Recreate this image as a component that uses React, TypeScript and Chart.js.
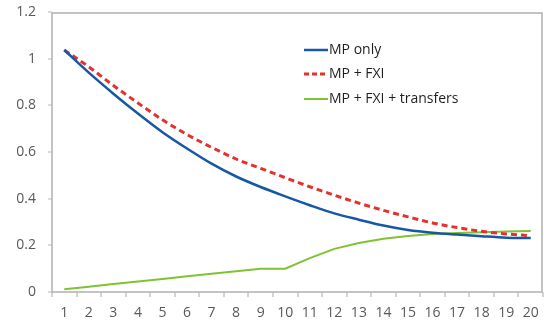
import React, { useEffect, useRef } from "react";
import { Chart, registerables } from "chart.js";

Chart.register(...registerables);

const periods = ["1", "2", "3", "4", "5", "6", "7", "8", "9", "10", "11", "12", "13", "14", "15", "16", "17", "18", "19", "20"];

const mpOnly = [1.037, 0.94, 0.85, 0.765, 0.685, 0.615, 0.55, 0.495, 0.45, 0.41, 0.372, 0.337, 0.31, 0.285, 0.266, 0.254, 0.246, 0.239, 0.233, 0.231];
const mpFxi = [1.037, 0.965, 0.885, 0.81, 0.738, 0.675, 0.62, 0.57, 0.53, 0.49, 0.451, 0.415, 0.381, 0.35, 0.322, 0.296, 0.276, 0.26, 0.249, 0.241];
const mpFxiTransfers = [0.012, 0.023, 0.034, 0.045, 0.056, 0.067, 0.078, 0.089, 0.1, 0.1, 0.145, 0.185, 0.21, 0.228, 0.24, 0.249, 0.253, 0.256, 0.259, 0.261];

const seriesNames = ["MP only", "MP + FXI", "MP + FXI + transfers"];
const yTickValues = [0, 0.2, 0.4, 0.6, 0.8, 1, 1.2];

const FONT = "'Open Sans', 'Noto Sans', sans-serif";
const FRAME = "#b0b0b0";
const TICK = "#b8b8b8";

// Plot frame plus outside tick marks on both axes, then the legend
const overlay = {
  id: "overlay",
  afterDraw(chart: any) {
    const { ctx, chartArea } = chart;
    const xs = chart.scales.x;
    const ys = chart.scales.y;
    const L = Math.round(chartArea.left);
    const R = Math.round(chartArea.right) - 1;
    const T = Math.round(chartArea.top) + 1;
    const B = Math.round(chartArea.bottom);
    ctx.save();
    ctx.setLineDash([]);
    ctx.lineWidth = 1.5;
    ctx.strokeStyle = FRAME;
    ctx.beginPath();
    ctx.moveTo(L, T);
    ctx.lineTo(R, T);
    ctx.lineTo(R, B);
    ctx.lineTo(L, B);
    ctx.closePath();
    ctx.stroke();

    ctx.lineWidth = 1.2;
    ctx.strokeStyle = TICK;
    ctx.beginPath();
    for (const v of yTickValues) {
      const y = Math.round(ys.getPixelForValue(v));
      ctx.moveTo(L - 4, y);
      ctx.lineTo(L, y);
    }
    const n = periods.length;
    for (let i = 0; i <= n; i++) {
      const x = Math.round(xs.left + (xs.width * i) / n);
      ctx.moveTo(x, B);
      ctx.lineTo(x, B + 5);
    }
    ctx.stroke();

    // legend inside the plot area, to the right of centre
    const rows = [50, 74, 99];
    chart.data.datasets.forEach((ds: any, i: number) => {
      const y = rows[i];
      ctx.beginPath();
      ctx.strokeStyle = ds.borderColor;
      ctx.lineWidth = ds.borderWidth;
      ctx.setLineDash(ds.borderDash ? [5, 3] : []);
      ctx.moveTo(304, y);
      ctx.lineTo(328, y);
      ctx.stroke();
      ctx.setLineDash([]);
      ctx.fillStyle = "#1f1f1f";
      ctx.font = `14px ${FONT}`;
      ctx.textAlign = "left";
      ctx.textBaseline = "middle";
      ctx.fillText(ds.label, 329, y);
    });
    ctx.restore();
  },
};

export default function App() {
  const ref = useRef<HTMLCanvasElement | null>(null);

  useEffect(() => {
    if (!ref.current) return;
    const chart = new Chart(ref.current, {
      type: "line",
      data: {
        labels: periods,
        datasets: [
          {
            label: seriesNames[0],
            data: mpOnly,
            borderColor: "#1857a4",
            borderWidth: 2.5,
            pointRadius: 0,
            cubicInterpolationMode: "monotone",
          },
          {
            label: seriesNames[1],
            data: mpFxi,
            borderColor: "#e5302b",
            borderWidth: 3,
            borderDash: [6, 4],
            pointRadius: 0,
            cubicInterpolationMode: "monotone",
          },
          {
            label: seriesNames[2],
            data: mpFxiTransfers,
            borderColor: "#7fc233",
            borderWidth: 2,
            pointRadius: 0,
            tension: 0,
          },
        ],
      },
      options: {
        responsive: false,
        animation: false,
        devicePixelRatio: 1,
        layout: { padding: { top: 12, right: 1, left: 0, bottom: 0 } },
        plugins: {
          legend: { display: false },
          tooltip: { enabled: false },
        },
        scales: {
          x: {
            type: "category",
            offset: true,
            grid: { display: false, offset: true, drawTicks: true, tickLength: 13 },
            border: { display: false },
            ticks: {
              color: "#595959",
              font: { family: FONT, size: 14 },
              padding: 0,
              maxRotation: 0,
              autoSkip: false,
            },
            afterFit(scale: any) {
              scale.height = 30;
            },
          },
          y: {
            min: 0,
            max: 1.2,
            afterBuildTicks(scale: any) {
              scale.ticks = yTickValues.map((v) => ({ value: v }));
            },
            grid: { display: false, drawTicks: true, tickLength: 16 },
            border: { display: false },
            ticks: {
              color: "#595959",
              font: { family: FONT, size: 14 },
              padding: 0,
              callback: (v: any) => String(Number(Number(v).toFixed(1))),
            },
            afterFit(scale: any) {
              scale.width = 52;
            },
          },
        },
      },
      plugins: [overlay],
    });
    return () => chart.destroy();
  }, []);

  return (
    <canvas
      ref={ref}
      width={544}
      height={322}
      style={{ position: "absolute", left: 0, top: 0, width: 544, height: 322 }}
    />
  );
}
